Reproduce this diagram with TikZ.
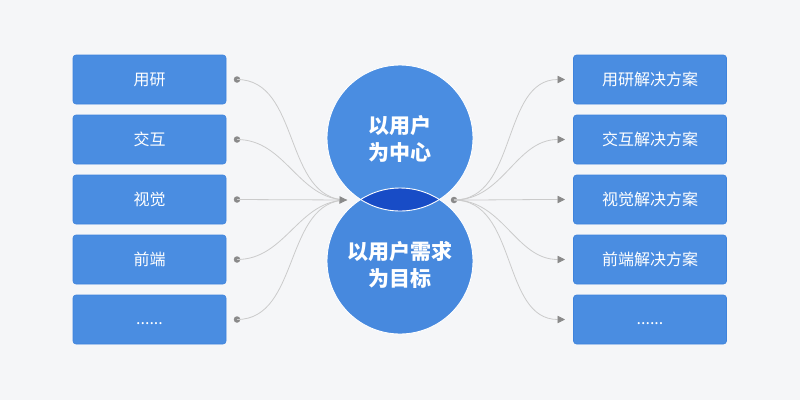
\documentclass[tikz,border=0pt]{standalone}
\usepackage{fontspec}
\setmainfont{Noto Sans CJK SC}
\usetikzlibrary{arrows.meta}
\definecolor{bg}{HTML}{F5F6F8}
\definecolor{boxblue}{HTML}{4A8DE1}
\definecolor{boxedge}{HTML}{3E83DC}
\definecolor{circblue}{HTML}{4A8DE1}
\definecolor{circblue2}{HTML}{4789DE}
\definecolor{lens}{HTML}{184CC6}
\definecolor{linegray}{HTML}{CBCBCB}
\definecolor{dotgray}{HTML}{8A8A8A}
\tikzset{
  box/.style={draw=boxedge, line width=0.6pt, fill=boxblue, rounded corners=3pt,
    minimum width=153pt, minimum height=49pt, inner sep=0pt, text=white,
    font=\fontsize{16}{18}\selectfont},
  dotnode/.style={circle, fill=dotgray, minimum size=6.5pt, inner sep=0pt},
  conn/.style={draw=linegray, line width=0.8pt},
  tipped/.style={conn, -{Triangle[length=7.5pt,width=7.5pt,color=dotgray]}},
  circtext/.style={text=white, align=center, font=\bfseries\fontsize{21}{27}\selectfont}
}
\begin{document}
\begin{tikzpicture}[x=1pt,y=-1pt]
\fill[bg] (0,0) rectangle (800,400);
\useasboundingbox (0,0) rectangle (800,400);

% left boxes
\node[box] (l1) at (149.5,79.5) {用研};
\node[box] (l2) at (149.5,139.5) {交互};
\node[box] (l3) at (149.5,199.5) {视觉};
\node[box] (l4) at (149.5,259.5) {前端};
\node[box] (l5) at (149.5,319.5) {\vphantom{用}......};

% right boxes
\node[box] (r1) at (650,79.5) {用研解决方案};
\node[box] (r2) at (650,139.5) {交互解决方案};
\node[box] (r3) at (650,199.5) {视觉解决方案};
\node[box] (r4) at (650,259.5) {前端解决方案};
\node[box] (r5) at (650,319.5) {\vphantom{用}......};

% circles
\coordinate (ctop) at (400,138);
\coordinate (cbot) at (400,261);
\fill[circblue] (ctop) circle (73);
\fill[circblue2] (cbot) circle (73);
\begin{scope}
  \clip (ctop) circle (73);
  \fill[lens] (cbot) circle (73);
\end{scope}
\draw[white, line width=0.9pt] (ctop) circle (73);
\draw[white, line width=0.9pt] (cbot) circle (73);
\node[circtext] (t1) at (400,139) {以用户\\为中心};
\node[circtext] (t2) at (400,265) {以用户需求\\为目标};

% left connectors
\coordinate (ltip) at (347,200);
\foreach \i/\y in {1/79.5,2/139.5,3/199.5,4/259.5,5/319.5}{
  \node[dotnode] (ld\i) at (237,\y) {};
}
\foreach \i in {1,2,4,5}{
  \draw[conn] (ld\i.center) to[out=0,in=180] (ltip);
}
\draw[tipped] (ld3.center) -- (ltip);

% right connectors
\node[dotnode] (rd) at (454,200) {};
\foreach \i/\y in {1/79.5,2/139.5,3/199.5,4/259.5,5/319.5}{
  \coordinate (rt\i) at (565,\y);
  \draw[tipped] (rd.center) to[out=0,in=180] (rt\i);
}
\end{tikzpicture}
\end{document}
